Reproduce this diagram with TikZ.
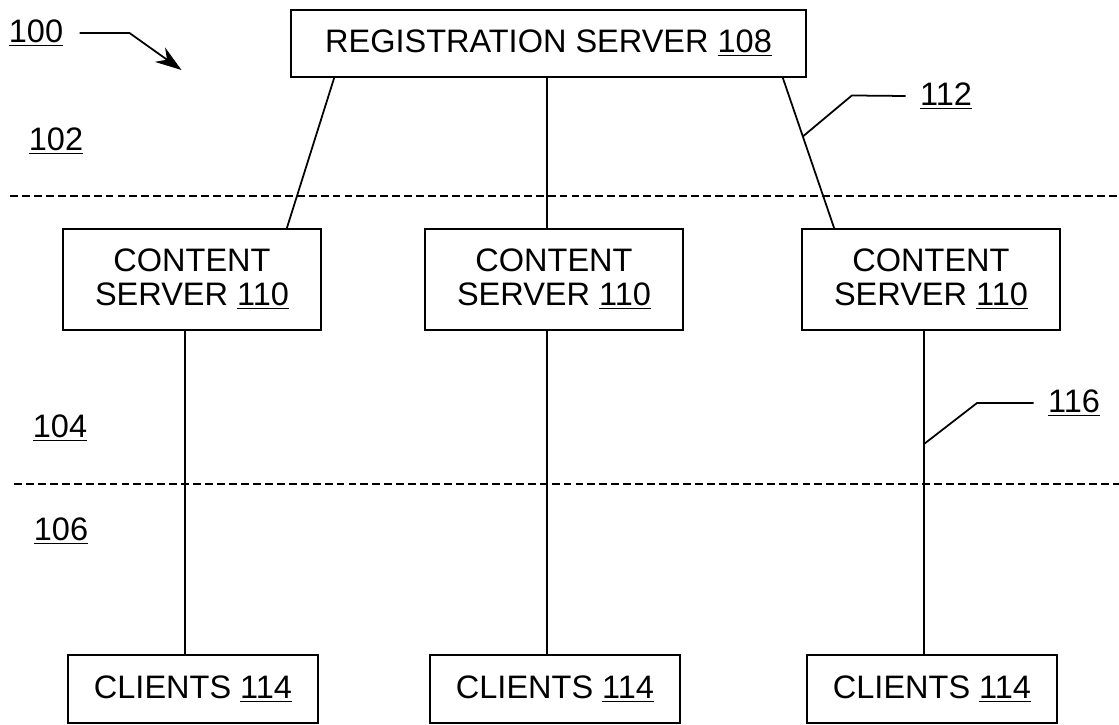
\documentclass[tikz,border=0pt]{standalone}
\usepackage{fontspec}
\setmainfont{Liberation Sans}
\usepackage{tikz}
\usetikzlibrary{arrows.meta}
\usetikzlibrary{calc}

\begin{document}
\begin{tikzpicture}[x=0.02cm, y=-0.02cm, line width=1pt,
    box/.style={draw, align=center, inner sep=0pt, font=\fontsize{18.5}{19.3}\selectfont},
    tag/.style={font=\fontsize{18.5}{19.3}\selectfont, inner sep=2pt},
    zone/.style={line width=0.8pt, dash pattern=on 4.5pt off 2.3pt}]
\useasboundingbox (0,0) rectangle (1119,724);
\node[box, minimum width=10.3cm, minimum height=1.34cm] (reg) at (548.5,43.5) {REGISTRATION SERVER \underline{108}};
\node[box, minimum width=5.16cm, minimum height=2.02cm] (cs1) at (192,279.5) {CONTENT\\SERVER \underline{110}};
\node[box, minimum width=5.16cm, minimum height=2.02cm] (cs2) at (554,279.5) {CONTENT\\SERVER \underline{110}};
\node[box, minimum width=5.16cm, minimum height=2.02cm] (cs3) at (931,279.5) {CONTENT\\SERVER \underline{110}};
\node[box, minimum width=5.0cm, minimum height=1.36cm] (cl1) at (193,689) {CLIENTS \underline{114}};
\node[box, minimum width=5.0cm, minimum height=1.36cm] (cl2) at (555,689) {CLIENTS \underline{114}};
\node[box, minimum width=5.0cm, minimum height=1.36cm] (cl3) at (932,689) {CLIENTS \underline{114}};
\node[tag] (n100) at (36,33) {\underline{100}};
\node[tag] (n102) at (56,141) {\underline{102}};
\node[tag] (n104) at (60,428) {\underline{104}};
\node[tag] (n106) at (61,531) {\underline{106}};
\node[tag] (n112) at (946,96) {\underline{112}};
\node[tag] (n116) at (1074,403) {\underline{116}};
\draw[zone] (10,196) -- (1119,196);
\draw[zone] (14,484) -- (1119,484);
\coordinate (d1) at ($(cs1.south)+(-7,0)$);
\coordinate (d2) at ($(cs2.south)+(-7,0)$);
\coordinate (d3) at ($(cs3.south)+(-7,0)$);
\draw ($(reg.south west)+(44,0)$) -- ($(cs1.north east)+(-35,0)$);
\draw (d2 |- reg.south) -- (d2 |- cs2.north);
\draw ($(reg.south east)+(-24,0)$) -- coordinate[pos=0.39] (k112) ($(cs3.north west)+(33,0)$);
\draw (d1) -- (d1 |- cl1.north);
\draw (d2) -- (d2 |- cl2.north);
\draw (d3) -- coordinate[pos=0.35] (k116) (d3 |- cl3.north);
\draw (k112) -- ++(49,-41) -- ($(n112.west)+(-10,0)$);
\draw (k116) -- ++(53,-41) -- ($(n116.west)+(-10,0)$);
\draw[-{Stealth[length=15pt,width=10pt]}] ($(n100.east)+(12,0)$) -- ++(50,0) -- ++(52,37);
\end{tikzpicture}
\end{document}
